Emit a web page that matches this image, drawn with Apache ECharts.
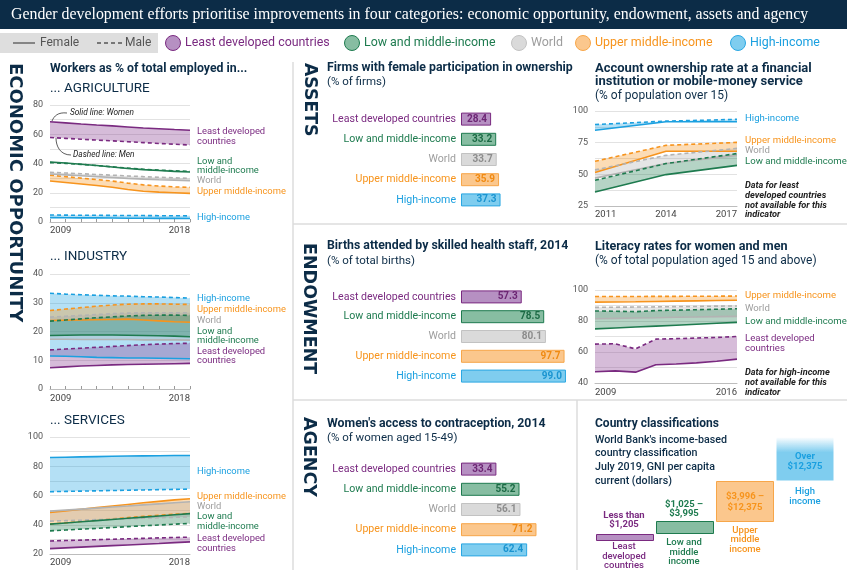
<!DOCTYPE html>
<html><head><meta charset="utf-8">
<script src="https://cdn.jsdelivr.net/npm/echarts@6/dist/echarts.min.js"></script>
<style>html,body{margin:0;padding:0;background:#fff}#c{width:847px;height:570px}</style>
</head><body><div id="c"></div>
<script>
// ---------------- DATA ----------------
const years10 = ['2009','2010','2011','2012','2013','2014','2015','2016','2017','2018'];
// Agriculture (% of employed)
const agriLdcF = [68.5, 67.8, 67.0, 66.3, 65.7, 65.0, 64.3, 63.8, 63.2, 62.7];
const agriLdcM = [57.8, 57.2, 56.6, 56.0, 55.5, 54.9, 54.3, 53.7, 53.2, 52.6];
const agriLmiF = [41.0, 40.3, 39.5, 38.6, 37.6, 36.6, 35.8, 35.2, 34.6, 34.2];
const agriLmiM = [40.6, 40.1, 39.4, 38.6, 37.7, 36.9, 36.1, 35.5, 35.0, 34.6];
const agriWldF = [32.8, 32.2, 31.6, 31.0, 30.4, 29.8, 29.3, 28.9, 28.6, 28.3];
const agriWldM = [34.0, 33.5, 33.0, 32.5, 32.0, 31.5, 31.0, 30.6, 30.2, 29.8];
const agriUmiF = [28.0, 27.0, 26.0, 25.0, 23.8, 22.2, 21.0, 20.4, 20.0, 19.6];
const agriUmiM = [32.0, 31.0, 30.0, 29.0, 28.0, 26.6, 25.4, 24.6, 24.0, 23.7];
const agriHiF  = [3.0, 2.9, 2.8, 2.8, 2.7, 2.6, 2.6, 2.5, 2.5, 2.4];
const agriHiM  = [4.8, 4.7, 4.6, 4.6, 4.5, 4.4, 4.4, 4.3, 4.3, 4.2];
// Industry
const indLdcF = [7.4, 7.7, 8.0, 8.2, 8.4, 8.5, 8.6, 8.7, 8.8, 8.9];
const indLdcM = [13.6, 13.9, 14.2, 14.5, 14.8, 15.1, 15.4, 15.6, 15.8, 15.9];
const indLmiF = [18.6, 18.7, 18.8, 18.8, 18.8, 18.7, 18.6, 18.5, 18.4, 18.2];
const indLmiM = [23.6, 24.0, 24.4, 24.8, 25.1, 25.4, 25.6, 25.7, 25.7, 25.6];
const indWldF = [17.3, 17.3, 17.2, 17.2, 17.2, 17.2, 17.1, 17.1, 17.1, 17.0];
const indWldM = [25.0, 25.3, 25.6, 25.9, 26.2, 26.4, 26.5, 26.5, 26.5, 26.5];
const indUmiF = [23.8, 23.9, 24.0, 24.1, 24.2, 24.3, 24.0, 23.7, 23.4, 23.2];
const indUmiM = [27.3, 27.8, 28.3, 28.8, 29.2, 29.5, 29.6, 29.6, 29.5, 29.4];
const indHiF  = [11.5, 11.4, 11.2, 11.0, 10.9, 10.8, 10.8, 10.7, 10.6, 10.5];
const indHiM  = [33.3, 33.0, 32.8, 32.6, 32.4, 32.3, 32.1, 32.0, 31.8, 31.6];
// Services
const srvLdcF = [23.7, 24.2, 24.7, 25.2, 25.7, 26.2, 26.7, 27.2, 27.8, 28.3];
const srvLdcM = [28.9, 29.2, 29.5, 29.8, 30.1, 30.4, 30.7, 31.0, 31.3, 31.5];
const srvLmiF = [40.4, 41.2, 42.0, 42.8, 43.6, 44.4, 45.2, 46.0, 46.8, 47.6];
const srvLmiM = [35.8, 36.4, 37.0, 37.5, 38.1, 38.7, 39.3, 39.8, 40.4, 40.9];
const srvWldF = [49.3, 50.0, 50.7, 51.4, 52.1, 52.8, 53.6, 54.3, 55.0, 55.7];
const srvWldM = [42.5, 42.8, 43.1, 43.5, 43.8, 44.1, 44.5, 44.8, 45.1, 45.4];
const srvUmiF = [48.4, 49.5, 50.6, 51.7, 52.8, 53.9, 55.0, 56.0, 57.0, 57.8];
const srvUmiM = [40.4, 41.3, 42.2, 43.1, 44.0, 44.9, 45.7, 46.5, 47.2, 47.8];
const srvHiF  = [86.0, 86.2, 86.4, 86.6, 86.8, 87.0, 87.1, 87.2, 87.3, 87.4];
const srvHiM  = [62.6, 62.8, 63.0, 63.2, 63.4, 63.6, 63.8, 64.0, 64.2, 64.4];
// Account ownership
const accYears = ['2011','2014','2017'];
const accHiF  = [84.8, 91.5, 91.5];
const accHiM  = [89.3, 92.0, 93.4];
const accUmiF = [51.4, 68.2, 68.2];
const accUmiM = [60.3, 72.9, 75.2];
const accWldF = [47.0, 58.5, 65.0];
const accWldM = [53.5, 65.0, 70.5];
const accLmiF = [36.1, 49.8, 57.1];
const accLmiM = [45.3, 58.5, 66.4];
// Literacy
const litYears = ['2009','2010','2011','2012','2013','2014','2015','2016'];
const litUmiF = [92.2, 92.3, 92.4, 92.6, 92.8, 93.0, 93.2, 93.4];
const litUmiM = [95.8, 95.8, 95.8, 95.9, 95.9, 96.0, 96.0, 96.1];
const litWldF = [81.5, 81.7, 81.9, 82.1, 82.4, 82.6, 82.8, 83.0];
const litWldM = [88.8, 88.9, 89.0, 89.1, 89.3, 89.4, 89.6, 89.7];
const litLmiF = [74.9, 75.5, 76.1, 76.7, 77.3, 77.9, 78.5, 79.1];
const litLmiM = [86.5, 86.3, 86.0, 86.7, 87.0, 87.3, 87.6, 87.9];
const litLdcF = [47.3, 47.8, 47.0, 51.8, 52.3, 53.0, 54.0, 55.4];
const litLdcM = [65.1, 65.3, 62.0, 68.3, 68.6, 69.0, 69.4, 70.0];
// Bar panels
const barCats = ['Least developed countries','Low and middle-income','World','Upper middle-income','High-income'];
const firmsVals  = [28.4, 33.2, 33.7, 35.9, 37.3];
const birthsVals = [57.3, 78.5, 80.1, 97.7, 99.0];
const contraVals = [33.4, 55.2, 56.1, 71.2, 62.4];
// Country classification (illustrative staircase levels)
const classCats = ['Least developed countries','Low and middle income','Upper middle income','High income'];
const classStepLow  = [0, 7, 19, 60];
const classStepSize = [7, 13, 41, 44];

// ---------------- STYLE ----------------
const NAVY = '#0c2c47';
const FONT = 'Roboto, "Noto Sans", sans-serif';
const HEAVY = '"DejaVu Sans", Roboto, sans-serif';
const COL = {ldc:'#7a2a80', lmi:'#1e7b4f', wld:'#b3b3b3', umi:'#f7941d', hi:'#1ba0e0'};
const TXT = {ldc:'#7a2a80', lmi:'#1e7b4f', wld:'#9d9d9d', umi:'#f7941d', hi:'#1ba0e0'};
const BAND = {ldc:'rgba(140,70,150,0.36)', lmi:'rgba(30,123,79,0.33)', wld:'rgba(160,160,160,0.28)', umi:'rgba(247,148,29,0.33)', hi:'rgba(27,160,224,0.33)'};
const FILL = {ldc:'#b690c2', lmi:'#87bda2', wld:'#dadada', umi:'#fbc78d', hi:'#7fcdef'};
const EDGE = {ldc:'#7a2a80', lmi:'#1e7b4f', wld:'#c2c2c2', umi:'#f7a649', hi:'#2aa7e2'};
const VAL  = {ldc:'#6c2573', lmi:'#1c6a45', wld:'#8c8c8c', umi:'#f08a12', hi:'#1a94d0'};
const barKeys = ['ldc','lmi','wld','umi','hi'];

const g = [];
function T(x, y, text, o) {
  o = o || {};
  g.push({type:'text', x, y, rotation:o.rot||0, silent:true, z:10,
    style:{text, fill:o.c||NAVY, font:(o.i?'italic ':'')+(o.w||'normal')+' '+(o.s||10)+'px '+(o.f||FONT),
      align:o.a||'left', textAlign:o.a||'left', verticalAlign:'middle', textVerticalAlign:'middle'}});
}
function L(pts, color, w, dash) {
  g.push({type:'polyline', silent:true, z:9, shape:{points:pts}, style:{stroke:color, lineWidth:w||1, lineDash:dash||null, fill:null}});
}
// Title bar + legend
g.push({type:'rect', shape:{x:0,y:0,width:847,height:29}, style:{fill:NAVY}, silent:true});
T(11, 15, 'Gender development efforts prioritise improvements in four categories: economic opportunity, endowment, assets and agency', {c:'#fff', s:15.85, f:'"Liberation Serif", serif'});
g.push({type:'rect', shape:{x:0,y:33,width:158,height:20}, style:{fill:'#dedede'}, silent:true});
L([[13,43],[35,43]], '#555', 1.3);
T(40, 43, 'Female', {c:'#555', s:12});
L([[97,43],[122,43]], '#555', 1.3, [4,3]);
T(125, 43, 'Male', {c:'#555', s:12});
[[173,'ldc','Least developed countries'],[352,'lmi','Low and middle-income'],[519,'wld','World'],[583,'umi','Upper middle-income'],[738,'hi','High-income']].forEach(([cx,k,t])=>{
  g.push({type:'circle', shape:{cx, cy:43, r:7.5}, style:{fill:FILL[k], stroke:EDGE[k], lineWidth:1}, silent:true});
  T(cx+12, 43, t, {c:TXT[k], s:12.4});
});
// dividers
L([[293,62],[293,570]], '#dcdcdc', 1.5);
L([[293,224],[847,224]], '#dcdcdc', 1.5);
L([[293,400],[847,400]], '#dcdcdc', 1.5);
L([[577,400],[577,570]], '#dcdcdc', 1.5);
// section heads (vertical)
T(15, 63, 'ECONOMIC OPPORTUNITY', {rot:-Math.PI/2, s:18, w:'bold', f:HEAVY});
T(309, 63, 'ASSETS', {rot:-Math.PI/2, s:17.3, w:'bold', f:HEAVY});
T(309, 243, 'ENDOWMENT', {rot:-Math.PI/2, s:17.5, w:'bold', f:HEAVY});
T(309, 417, 'AGENCY', {rot:-Math.PI/2, s:17.5, w:'bold', f:HEAVY});
// left column titles
T(50, 69, 'Workers as % of total employed in...', {s:12.3, w:'bold'});
T(50, 89, '... AGRICULTURE', {s:13.5});
T(50, 257, '... INDUSTRY', {s:13.5});
T(50, 421, '... SERVICES', {s:13.5});
// annotations
T(70, 113, 'Solid line: Women', {s:8.3, i:true, c:'#222'});
T(73, 155, 'Dashed line: Men', {s:8.3, i:true, c:'#222'});
g.push({type:'bezierCurve', silent:true, z:9, shape:{x1:67,y1:113,x2:52,y2:121,cpx1:58,cpy1:112,cpx2:54,cpy2:116}, style:{stroke:'#333', lineWidth:0.8, fill:null}});
g.push({type:'bezierCurve', silent:true, z:9, shape:{x1:71,y1:155,x2:56,y2:138,cpx1:60,cpy1:155,cpx2:56,cpy2:146}, style:{stroke:'#333', lineWidth:0.8, fill:null}});
// left column series labels
const lbl = (x, s, rows) => rows.forEach(([y,k,t]) => T(x, y, t, {c:TXT[k], s}));
lbl(197, 9.4, [[132,'ldc','Least developed'],[142,'ldc','countries'],[162,'lmi','Low and'],[171,'lmi','middle-income'],[181,'wld','World'],[192,'umi','Upper middle-income'],[218,'hi','High-income']]);
lbl(197, 9.4, [[299,'hi','High-income'],[310,'umi','Upper middle-income'],[321,'wld','World'],[332,'lmi','Low and'],[341,'lmi','middle-income'],[352,'ldc','Least developed'],[361,'ldc','countries']]);
lbl(197, 9.4, [[472,'hi','High-income'],[497,'umi','Upper middle-income'],[507,'wld','World'],[517,'lmi','Low and'],[527,'lmi','middle-income'],[539,'ldc','Least developed'],[549,'ldc','countries']]);
// middle titles
T(327, 68, 'Firms with female participation in ownership', {s:12.3, w:'bold'});
T(327, 82, '(% of firms)', {s:11.5});
T(327, 246, 'Births attended by skilled health staff, 2014', {s:12.3, w:'bold'});
T(327, 261, '(% of total births)', {s:11.5});
T(327, 424, "Women's access to contraception, 2014", {s:12.3, w:'bold'});
T(327, 438, '(% of women aged 15-49)', {s:11.5});
// right titles
T(595, 69, 'Account ownership rate at a financial', {s:13, w:'bold'});
T(595, 82, 'institution or mobile-money service', {s:13, w:'bold'});
T(595, 96, '(% of population over 15)', {s:12});
T(595, 247, 'Literacy rates for women and men', {s:12.6, w:'bold'});
T(595, 261, '(% of total population aged 15 and above)', {s:12});
lbl(745, 9.6, [[119,'hi','High-income'],[141,'umi','Upper middle-income'],[151,'wld','World'],[162,'lmi','Low and middle-income']]);
lbl(745, 9.6, [[296,'umi','Upper middle-income'],[309,'wld','World'],[322,'lmi','Low and middle-income'],[339,'ldc','Least developed'],[349,'ldc','countries']]);
[[186,'Data for least'],[196,'developed countries'],[205.5,'not available for this'],[215,'indicator']].forEach(([y,t])=>T(745,y,t,{s:9.2,i:true,w:'bold',c:'#222'}));
[[373,'Data for high-income'],[383,'not available for this'],[393,'indicator']].forEach(([y,t])=>T(745,y,t,{s:9.2,i:true,w:'bold',c:'#222'}));
// country classification texts
T(595, 424, 'Country classifications', {s:12, w:'bold'});
[[440,"World Bank's income-based"],[453,'country classification'],[467,'July 2019, GNI per capita'],[481,'current (dollars)']].forEach(([y,t])=>T(595,y,t,{s:10.7,w:500}));
const cl = (x, rows, k, w) => rows.forEach(([y,t]) => T(x, y, t, {c:TXT[k], s:9.5, w:w||'bold', a:'center'}));
cl(624, [[516,'Less than'],[525,'$1,205']], 'ldc');
cl(624, [[547,'Least'],[557,'developed'],[566,'countries']], 'ldc', 500);
cl(684, [[505,'$1,025 –'],[514,'$3,995']], 'lmi');
cl(684, [[543,'Low and'],[553,'middle'],[562,'income']], 'lmi', 500);
cl(745, [[497,'$3,996 –'],[508,'$12,375']], 'umi');
cl(745, [[531,'Upper'],[540,'middle'],[550,'income']], 'umi', 500);
cl(805, [[457,'Over'],[467,'$12,375']], 'hi');
cl(805, [[492,'High'],[502,'income']], 'hi', 500);

// ---------------- AXES / SERIES ----------------
const grid = [
  {left:50, top:105, width:140, height:117},
  {left:50, top:274, width:140, height:115},
  {left:50, top:437, width:140, height:117},
  {left:595, top:111, width:142, height:95},
  {left:595, top:290, width:142, height:93},
  {left:461, top:109, width:106, height:101},
  {left:461, top:287, width:106, height:99},
  {left:461, top:459, width:106, height:101},
  {left:595, top:437, width:240, height:104}
];
function lineX(idx, cats, ticks, margin, allLabels) {
  return {type:'category', gridIndex:idx, data:cats, boundaryGap:false,
    axisLine:{show:true, lineStyle:{color:'#bdbdbd', width:1}},
    axisTick:{show:ticks, inside:true, length:3, interval:0, lineStyle:{color:'#999'}},
    axisLabel:{fontSize:9.5, color:'#444', fontFamily:FONT, margin:margin,
      interval: allLabels ? 0 : (i => i===0 || i===cats.length-1),
      alignMinLabel:'left', alignMaxLabel:'right'}};
}
function lineY(idx, min, max, step, every) {
  return {type:'value', gridIndex:idx, min, max, interval:step,
    axisLine:{show:false}, axisTick:{show:false},
    splitLine:{lineStyle:{color:'#e2e2e2', width:1}},
    axisLabel:{fontSize:9, color:'#555', fontFamily:FONT, margin:7,
      formatter: v => (Math.abs(v % every) < 1e-6 ? String(v) : '')}};
}
const xAxis = [
  lineX(0, years10, true, 4), lineX(1, years10, true, 5), lineX(2, years10, false, 4),
  lineX(3, accYears, false, 4, true), lineX(4, litYears, false, 5),
];
const yAxis = [
  lineY(0, 0, 80, 10, 20), lineY(1, 0, 40, 10, 10), lineY(2, 20, 100, 10, 20),
  lineY(3, 25, 100, 12.5, 25), lineY(4, 40, 100, 10, 20)
];
[5,6,7].forEach(i => {
  xAxis.push({type:'value', gridIndex:i, min:0, max:100, show:false});
  yAxis.push({type:'category', gridIndex:i, data:barCats, inverse:true,
    axisLine:{show:false}, axisTick:{show:false},
    axisLabel:{fontSize:10.6, fontFamily:FONT, margin:5, color:(v, j) => TXT[barKeys[j]]}});
});
xAxis.push({type:'category', gridIndex:8, data:classCats, show:false});
yAxis.push({type:'value', gridIndex:8, min:0, max:104, show:false});

const series = [];
function band(idx, F, M, k) {
  series.push({type:'custom', xAxisIndex:idx, yAxisIndex:idx, silent:true, z:1, data:[[0,0]],
    renderItem:(p, api) => {
      const pts = [];
      F.forEach((v,i) => pts.push(api.coord([i, v])));
      for (let i = M.length-1; i >= 0; i--) pts.push(api.coord([i, M[i]]));
      return {type:'polygon', shape:{points:pts}, style:{fill:BAND[k]}};
    }});
}
function lines(idx, F, M, k) {
  series.push({type:'line', xAxisIndex:idx, yAxisIndex:idx, data:M, symbol:'none', silent:true, z:3,
    lineStyle:{color:COL[k], width:1.6, type:[4,3]}});
  series.push({type:'line', xAxisIndex:idx, yAxisIndex:idx, data:F, symbol:'none', silent:true, z:3,
    lineStyle:{color:COL[k], width:1.6}});
}
const panels = [
  [0, [[agriHiF,agriHiM,'hi'],[agriUmiF,agriUmiM,'umi'],[agriWldF,agriWldM,'wld'],[agriLmiF,agriLmiM,'lmi'],[agriLdcF,agriLdcM,'ldc']]],
  [1, [[indHiF,indHiM,'hi'],[indUmiF,indUmiM,'umi'],[indWldF,indWldM,'wld'],[indLmiF,indLmiM,'lmi'],[indLdcF,indLdcM,'ldc']]],
  [2, [[srvHiF,srvHiM,'hi'],[srvUmiF,srvUmiM,'umi'],[srvWldF,srvWldM,'wld'],[srvLmiF,srvLmiM,'lmi'],[srvLdcF,srvLdcM,'ldc']]],
  [3, [[accHiF,accHiM,'hi'],[accUmiF,accUmiM,'umi'],[accWldF,accWldM,'wld'],[accLmiF,accLmiM,'lmi']]],
  [4, [[litUmiF,litUmiM,'umi'],[litWldF,litWldM,'wld'],[litLmiF,litLmiM,'lmi'],[litLdcF,litLdcM,'ldc']]]
];
panels.forEach(([idx, grp]) => grp.forEach(([F,M,k]) => band(idx, F, M, k)));
panels.forEach(([idx, grp]) => grp.forEach(([F,M,k]) => lines(idx, F, M, k)));

[[5, firmsVals],[6, birthsVals],[7, contraVals]].forEach(([idx, vals]) => {
  series.push({type:'bar', xAxisIndex:idx, yAxisIndex:idx, barWidth:13, silent:true,
    data: vals.map((v,j) => ({value:v,
      itemStyle:{color:FILL[barKeys[j]], borderColor:EDGE[barKeys[j]], borderWidth:1},
      label:{color:VAL[barKeys[j]]}})),
    label:{show:true, position:'insideRight', distance:4, fontSize:10, fontWeight:'bold', fontFamily:FONT,
      formatter: p => p.value.toFixed(1)}});
});
const classKeys = ['ldc','lmi','umi','hi'];
series.push({type:'bar', xAxisIndex:8, yAxisIndex:8, stack:'cls', barWidth:58, silent:true,
  itemStyle:{color:'transparent'}, data:classStepLow});
series.push({type:'bar', xAxisIndex:8, yAxisIndex:8, stack:'cls', barWidth:58, silent:true,
  data: classStepSize.map((v,j) => {
    const k = classKeys[j];
    const col = k === 'hi'
      ? new echarts.graphic.LinearGradient(0,0,0,1,[{offset:0,color:'rgba(127,205,239,0)'},{offset:0.35,color:FILL.hi},{offset:1,color:FILL.hi}])
      : FILL[k];
    return {value:v, itemStyle:{color:col, borderColor: k==='hi' ? 'rgba(0,0,0,0)' : EDGE[k], borderWidth:1}};
  })});

const chart = echarts.init(document.getElementById('c'), null, {renderer:'canvas'});
chart.setOption({animation:false, grid, xAxis, yAxis, series, graphic:{elements:g}});
</script></body></html>
